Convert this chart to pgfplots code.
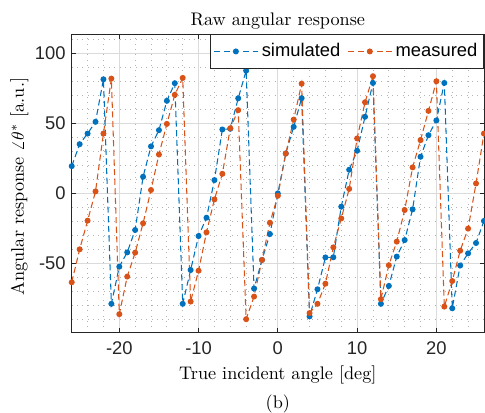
\documentclass[border=0pt]{standalone}
\usepackage{fontspec}
\setsansfont{Liberation Sans}
\usepackage{pgfplots}
\pgfplotsset{compat=1.18}
\definecolor{simblue}{rgb}{0,0.447,0.741}
\definecolor{measred}{rgb}{0.85,0.325,0.098}
\definecolor{axgray}{rgb}{0.15,0.15,0.15}

\begin{document}
\begin{tikzpicture}
\begin{axis}[
  name=ax,
  scale only axis,
  width=235.6pt, height=170.5pt,
  xmin=-26, xmax=26,
  ymin=-99.6, ymax=113.8,
  xtick={-20,-10,0,10,20},
  ytick={-50,0,50,100},
  minor xtick={-24,-22,-18,-16,-14,-12,-8,-6,-4,-2,2,4,6,8,12,14,16,18,22,24},
  minor ytick={-90,-80,-70,-60,-40,-30,-20,-10,10,20,30,40,60,70,80,90,110},
  grid=both,
  major grid style={black!14, line width=0.4pt},
  minor grid style={black!30, line width=0.45pt, dash pattern=on 0.45pt off 2.6pt},
  axis line style={axgray, line width=0.5pt},
  tick style={axgray, line width=0.5pt},
  major tick length=2.5pt, minor tick length=0pt,
  tick label style={font=\sffamily\fontsize{10.5}{12}\selectfont, text=axgray},
  xticklabel style={yshift=-1.5pt},
  /pgf/number format/assume math mode=true,
  title={Raw angular response},
  title style={at={(axis description cs:0.5,1)}, anchor=center, yshift=1.5pt,
    font=\fontsize{10.4}{12}\selectfont},
  xlabel={True incident angle [deg]},
  xlabel style={at={(axis description cs:0.5,0)}, anchor=center, yshift=-24pt},
  ylabel={Angular response $\angle\theta^*$ [a.u.]},
  ylabel style={at={([xshift=-30pt]axis description cs:0,0.49)}, anchor=center},
  label style={font=\fontsize{10.4}{12}\selectfont},
  legend columns=2,
  legend style={at={(1,1)}, anchor=north east, draw=axgray, line width=0.5pt,
    font=\sffamily\fontsize{10.5}{12}\selectfont, inner xsep=1.5pt, inner ysep=3pt,
    /tikz/every even column/.append style={column sep=2pt}},
  legend image code/.code={\draw[mark repeat=2, mark phase=2, #1]
    plot coordinates {(0pt,0pt) (12.5pt,0pt) (25pt,0pt)};},
]
%% simulated
\addplot[simblue, line width=0.6pt, dash pattern=on 3.5pt off 2pt,
  mark=*, mark size=1.4pt, mark options={solid}] coordinates {
  (-26,19.5) (-25,35.2) (-24,42.8) (-23,51.2) (-22,81.6) (-21,-79.0)
  (-20,-52.4) (-19,-42.2) (-18,-26.2) (-17,11.9) (-16,33.6) (-15,45.2)
  (-14,66.2) (-13,78.8) (-12,-79.0) (-11,-54.8) (-10,-30.5) (-9,-17.4)
  (-8,9.5) (-7,45.7) (-6,46.2) (-5,68.0) (-4,87.8) (-3,-68.1)
  (-2,-47.6) (-1,-29.1) (0,0.0) (1,28.6) (2,47.6) (3,68.1)
  (4,-88.0) (5,-68.6) (6,-45.8) (7,-45.7) (8,-9.5) (9,16.9)
  (10,30.5) (11,54.8) (12,79.0) (13,-79.0) (14,-66.2) (15,-45.2)
  (16,-33.4) (17,-11.4) (18,26.2) (19,41.6) (20,52.2) (21,79.0)
  (22,-82.2) (23,-51.6) (24,-42.9) (25,-35.5) (26,-19.7)
};
\addlegendentry{simulated}
%% measured
\addplot[measred, line width=0.6pt, dash pattern=on 3.5pt off 2pt,
  mark=*, mark size=1.4pt, mark options={solid}] coordinates {
  (-26,-63.6) (-25,-40.0) (-24,-19.5) (-23,1.4) (-22,42.8) (-21,82.1)
  (-20,-86.4) (-19,-59.5) (-18,-42.4) (-17,-21.4) (-16,2.4) (-15,27.8)
  (-14,49.7) (-13,70.5) (-12,82.6) (-11,-77.4) (-10,-55.3) (-9,-27.9)
  (-8,-4.3) (-7,14.0) (-6,46.6) (-5,59.5) (-4,-90.0) (-3,-73.8)
  (-2,-47.6) (-1,-21.0) (0,-1.7) (1,28.4) (2,52.8) (3,78.5)
  (4,-85.6) (5,-79.0) (6,-64.6) (7,-38.6) (8,-17.9) (9,3.2)
  (10,39.3) (11,65.2) (12,83.8) (13,-75.7) (14,-51.4) (15,-34.5)
  (16,-11.9) (17,18.6) (18,38.1) (19,59.0) (20,80.2) (21,-81.0)
  (22,-62.7) (23,-41.0) (24,-25.2) (25,7.1) (26,42.8)
};
\addlegendentry{measured}
\end{axis}
\node[font=\fontsize{10.4}{12}\selectfont] at ([yshift=-40.8pt]ax.south) {(b)};
\pgfresetboundingbox
\path[use as bounding box] ([xshift=-41pt,yshift=-45.9pt]ax.south west)
  rectangle ([xshift=0.6pt,yshift=19.6pt]ax.north east);
\end{tikzpicture}
\end{document}
